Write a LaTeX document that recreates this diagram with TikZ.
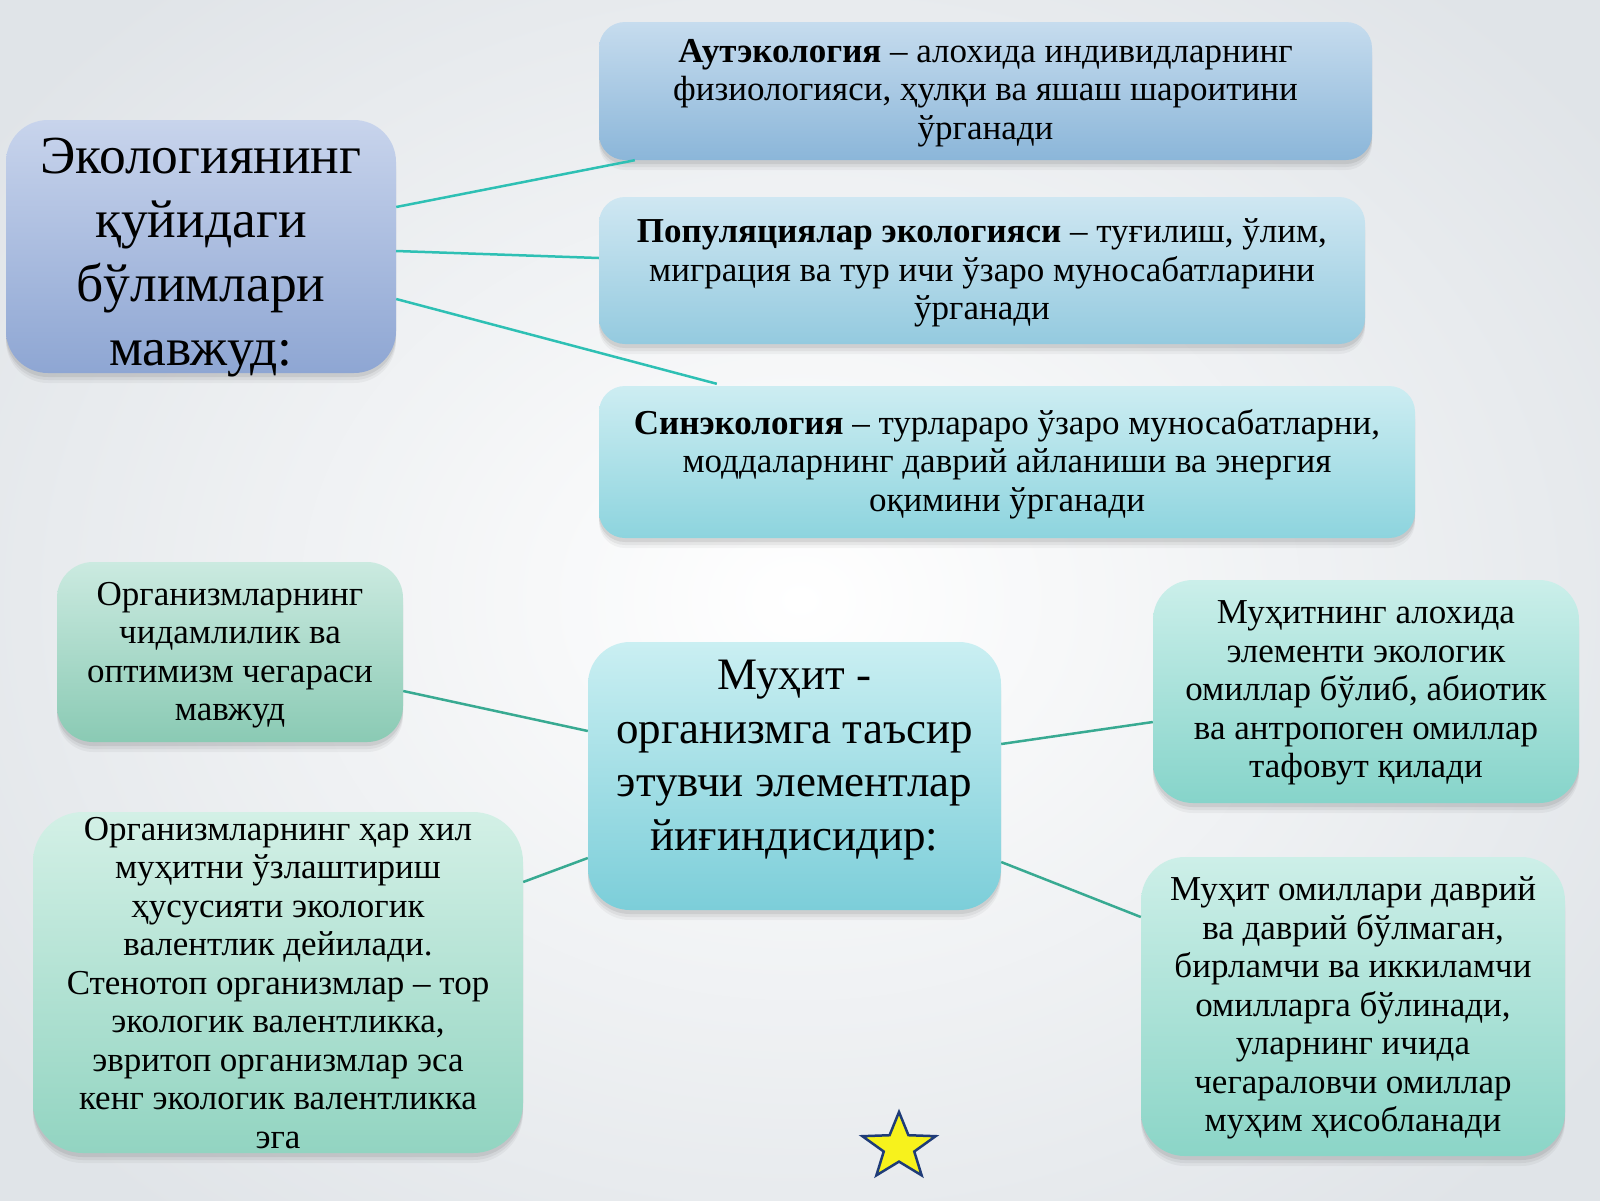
\documentclass[tikz,border=0pt]{standalone}
\usepackage{fontspec}
\setmainfont{Liberation Serif}
\usetikzlibrary{shadows,shapes.geometric}
\definecolor{bgout}{HTML}{E0E4E8}
\definecolor{lnA}{HTML}{2EC0B4}
\definecolor{lnB}{HTML}{38AA92}
\definecolor{aT}{HTML}{C8D4EC}\definecolor{aB}{HTML}{8EA6D3}
\definecolor{bT}{HTML}{C6DCEE}\definecolor{bB}{HTML}{8BB6D9}
\definecolor{cT}{HTML}{CFE7F2}\definecolor{cB}{HTML}{94CADF}
\definecolor{dT}{HTML}{CDEDF2}\definecolor{dB}{HTML}{8DD4DE}
\definecolor{fT}{HTML}{CAEFF2}\definecolor{fB}{HTML}{7CCED9}
\definecolor{eT}{HTML}{CBEAE0}\definecolor{eB}{HTML}{8ACAB4}
\definecolor{hT}{HTML}{D3F0E6}\definecolor{hB}{HTML}{92D4C1}
\definecolor{gT}{HTML}{CBEFEA}\definecolor{gB}{HTML}{86D4CA}
\definecolor{iT}{HTML}{CDEFE8}\definecolor{iB}{HTML}{8BD5C7}
\definecolor{starfill}{HTML}{F7F21C}
\definecolor{starline}{HTML}{1F3C78}
\tikzset{
  cbox/.style={draw=none, inner sep=0pt, rounded corners=32pt,
    drop shadow={shadow xshift=0pt, shadow yshift=-10pt, opacity=0.04, fill=black},
    drop shadow={shadow xshift=0pt, shadow yshift=-7pt, opacity=0.05, fill=black},
    drop shadow={shadow xshift=0pt, shadow yshift=-4pt, opacity=0.07, fill=black}},
  txt/.style={align=center, inner sep=0pt, text=black},
  midtxt/.style={txt, font=\fontsize{35}{38.5}\selectfont},
  smalltxt/.style={txt, font=\fontsize{35}{38.5}\selectfont},
  linkA/.style={draw=lnA, line width=2.5pt},
  linkB/.style={draw=lnB, line width=2.5pt},
}
\begin{document}
\begin{tikzpicture}[x=1pt,y=1pt]
\useasboundingbox (0,0) rectangle (1600,-1200);
\shade[inner color=white, outer color=bgout] (-200,200) rectangle (1800,-1400);
% boxes
\node[cbox, rounded corners=42pt, top color=aT, bottom color=aB, minimum width=390pt, minimum height=253pt] (A) at (201,-246.5) {};
\node[cbox, rounded corners=26pt, top color=bT, bottom color=bB, minimum width=773pt, minimum height=138pt] (B) at (985.5,-91) {};
\node[cbox, rounded corners=26pt, top color=cT, bottom color=cB, minimum width=766pt, minimum height=147pt] (C) at (982,-270.5) {};
\node[cbox, rounded corners=26pt, top color=dT, bottom color=dB, minimum width=816pt, minimum height=152pt] (D) at (1007,-462) {};
\node[cbox, rounded corners=36pt, top color=eT, bottom color=eB, minimum width=346pt, minimum height=180pt] (E) at (230,-652) {};
\node[cbox, rounded corners=42pt, top color=fT, bottom color=fB, minimum width=413pt, minimum height=268pt] (F) at (794.5,-776) {};
\node[cbox, rounded corners=40pt, top color=gT, bottom color=gB, minimum width=426pt, minimum height=223pt] (G) at (1366,-691.5) {};
\node[cbox, rounded corners=50pt, top color=hT, bottom color=hB, minimum width=490pt, minimum height=341pt] (H) at (278,-982.5) {};
\node[cbox, rounded corners=44pt, top color=iT, bottom color=iB, minimum width=424pt, minimum height=299pt] (I) at (1353,-1006.5) {};
% connectors
\draw[linkA] ([yshift=39.5pt]A.east) -- ([xshift=36pt]B.south west);
\draw[linkA] ([yshift=-4.5pt]A.east) -- ([yshift=12.5pt]C.west);
\draw[linkA] ([yshift=-52.5pt]A.east) -- ([xshift=118pt,yshift=2pt]D.north west);
\draw[linkB] ([yshift=-39pt]E.east) -- ([yshift=45pt]F.west);
\draw[linkB] ([yshift=100.5pt]H.east) -- ([yshift=-82pt]F.west);
\draw[linkB] ([yshift=32pt]F.east) -- ([yshift=-30.5pt]G.west);
\draw[linkB] ([yshift=-86pt]F.east) -- ([yshift=89.5pt]I.west);
% texts
\node[txt, font=\fontsize{53.5}{64}\selectfont] (At) at (201,-258) {Экологиянинг\\қуйидаги\\бўлимлари\\мавжуд:};
\node[midtxt] (Bt) at (985.5,-93) {\textbf{Аутэкология} – алохида индивидларнинг\\физиологияси, ҳулқи ва яшаш шароитини\\ўрганади};
\node[midtxt] (Ct) at (982,-273) {\textbf{Популяциялар экологияси} – туғилиш, ўлим,\\миграция ва тур ичи ўзаро муносабатларини\\ўрганади};
\node[midtxt] (Dt) at (1007,-464) {\textbf{Синэкология} – турлараро ўзаро муносабатларни,\\моддаларнинг даврий айланиши ва энергия\\оқимини ўрганади};
\node[smalltxt] (Et) at (230,-655) {Организмларнинг\\чидамлилик ва\\оптимизм чегараси\\мавжуд};
\node[txt, font=\fontsize{45}{53.5}\selectfont] (Ft) at (794.5,-760) {Муҳит -\\организмга таъсир\\этувчи элементлар\\йиғиндисидир:};
\node[smalltxt] (Gt) at (1366,-693) {Муҳитнинг алохида\\элементи экологик\\омиллар бўлиб, абиотик\\ва антропоген омиллар\\тафовут қилади};
\node[smalltxt] (Ht) at (278,-983) {Организмларнинг ҳар хил\\муҳитни ўзлаштириш\\ҳусусияти экологик\\валентлик дейилади.\\Стенотоп организмлар – тор\\экологик валентликка,\\эвритоп организмлар эса\\кенг экологик валентликка\\эга};
\node[smalltxt] (It) at (1353,-1008) {Муҳит омиллари даврий\\ва даврий бўлмаган,\\бирламчи ва иккиламчи\\омилларга бўлинади,\\уларнинг ичида\\чегараловчи омиллар\\муҳим ҳисобланади};
% star
\begin{scope}[shift={(899,-1147)}, xscale=1.1]
\node[star, star points=5, star point ratio=2.4, minimum size=70pt, inner sep=0pt, fill=starfill, draw=starline, line width=2.5pt, transform shape] (S) at (0,0) {};
\end{scope}
\end{tikzpicture}
\end{document}
